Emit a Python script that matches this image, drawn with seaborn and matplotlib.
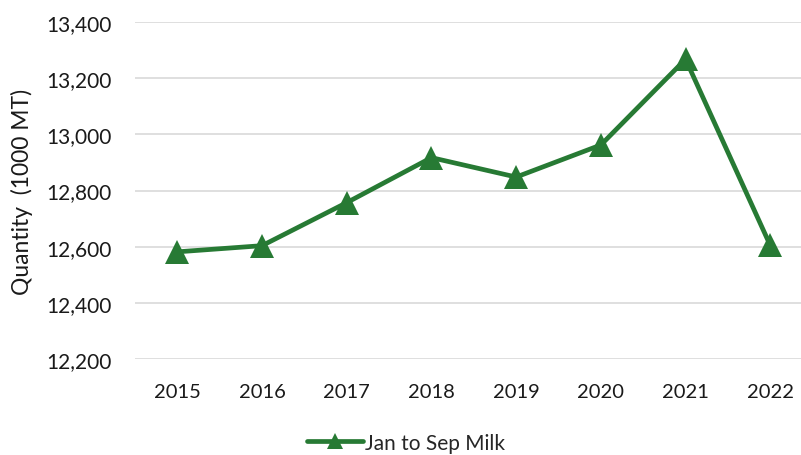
import matplotlib
matplotlib.use("Agg")
import matplotlib.pyplot as plt
import seaborn as sns
import pandas as pd
from matplotlib.ticker import FuncFormatter

# Milk production, January to September, in thousand metric tons
years = ["2015", "2016", "2017", "2018", "2019", "2020", "2021", "2022"]
milk_qty = [12582, 12604, 12757, 12917, 12848, 12962, 13267, 12605]
series_name = "Jan to Sep Milk"

sns.set_theme(style="white")
plt.rcParams["font.family"] = ["Lato", "DejaVu Sans"]

green = "#277a34"
df = pd.DataFrame({"Year": years, "Quantity": milk_qty, "Series": series_name})

fig = plt.figure(figsize=(8.01, 4.56), dpi=100)
ax = fig.add_axes([0.1685, 0.2099, 0.8460, 0.7401])

sns.lineplot(data=df, x="Year", y="Quantity", hue="Series", palette=[green],
             marker="^", markersize=17, markeredgewidth=0, linewidth=3.4,
             sort=False, ax=ax, legend=False)

ax.set_xlim(-0.5, len(years) - 0.5)
ax.set_ylim(12200, 13400)
ax.set_yticks(range(12200, 13401, 200))
ax.yaxis.set_major_formatter(FuncFormatter(lambda v, _: f"{int(v):,}"))
ax.grid(axis="y", color="#d9d9d9", linewidth=1.2)
ax.grid(axis="x", visible=False)
ax.set_axisbelow(True)
for s in ax.spines.values():
    s.set_visible(False)

ax.tick_params(axis="y", length=0, pad=17, labelsize=15, labelcolor="#1a1a1a")
ax.tick_params(axis="x", length=0, pad=17, labelsize=14.5, labelcolor="#1a1a1a")
ax.set_xlabel("")
ax.set_ylabel("Quantity  (1000 MT)", fontsize=16.5, color="#1a1a1a", labelpad=9)

handle = plt.Line2D([], [], color=green, linewidth=3.4, marker="^",
                    markersize=12, markeredgewidth=0)
fig.legend([handle], [series_name], loc="center", bbox_to_anchor=(0.507, 0.027),
           frameon=False, fontsize=15, handlelength=2.7, handletextpad=0.1)

fig.savefig("out.png", dpi=100)
